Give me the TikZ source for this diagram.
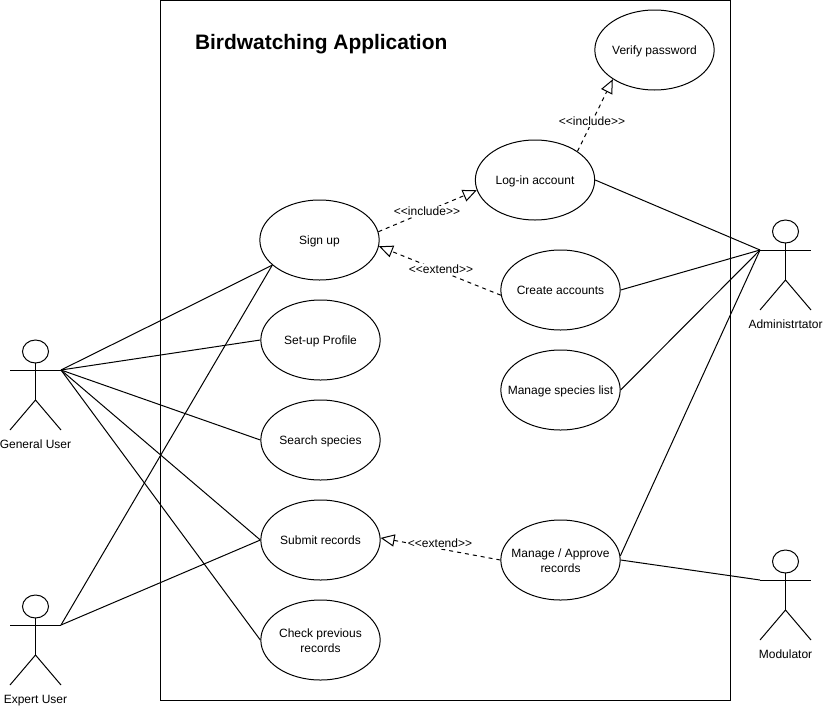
\documentclass[tikz,border=0pt]{standalone}
\usepackage{fontspec}
\setmainfont{Liberation Sans}
\usetikzlibrary{arrows.meta,shapes.geometric}
\newcommand{\toprow}{\rule{0pt}{9.5pt}}
\tikzset{
    usecase/.style={draw, ellipse, minimum width=89.5pt, minimum height=60pt, inner xsep=-12pt, inner ysep=0pt, align=center, font=\fontsize{9pt}{11.25pt}\selectfont,
        execute at begin node={\rule[-2pt]{0pt}{10.5pt}}},
    assoc/.style={line width=0.75pt},
    depends/.style={line width=0.75pt, dash pattern=on 3pt off 3pt, -{Triangle[open, length=10.5pt, width=9.2pt]}},
    deplabel/.style={fill=white, inner sep=1pt, font=\fontsize{9pt}{10pt}\selectfont},
    actorlabel/.style={inner sep=0pt, text height=6.5pt, text depth=2pt, font=\fontsize{9pt}{10pt}\selectfont},
}

\begin{document}
\begin{tikzpicture}[x=0.75pt, y=-0.75pt, line width=0.75pt]
    \useasboundingbox (0,0) rectangle (823,707);

    % Draw the system boundary
    \draw (160,0) rectangle (730,700);
    \node[anchor=west, inner sep=0pt, font=\fontsize{15.7pt}{18pt}\selectfont\bfseries] (title) at (194.5,44) {Birdwatching Application};

    % Draw the use cases
    \node[usecase] (signup) at (319.5,240) {Sign up};
    \node[usecase] (profile) at (320.5,340) {Set-up Profile};
    \node[usecase] (search) at (320.5,440) {Search species};
    \node[usecase] (submit) at (320.5,540) {Submit records};
    \node[usecase] (check) at (320.5,640) {\toprow Check previous\\records};
    \node[usecase] (verify) at (654.5,50) {Verify password};
    \node[usecase] (login) at (535,180) {Log-in account};
    \node[usecase] (create) at (560.5,290) {Create accounts};
    \node[usecase] (species) at (560.5,390) {Manage species list};
    \node[usecase] (approve) at (560.5,560) {\toprow Manage / Approve\\records};

    % Draw the actors
    \foreach \name/\cx/\cy/\who in {general/35.5/370/General User, expert/35.5/625/Expert User, admin/785.5/250/Administrtator, modulator/785.5/580/Modulator}{
        \draw (\cx,\cy-18.5) ellipse (13 and 11.5);
        \draw (\cx,\cy-7) -- (\cx,\cy+30);
        \draw (\cx-25.5,\cy) -- (\cx+25.5,\cy);
        \draw (\cx-25.5,\cy+60) -- (\cx,\cy+30) -- (\cx+25.5,\cy+60);
        \coordinate (\name-left) at (\cx-25.5,\cy);
        \coordinate (\name-right) at (\cx+25.5,\cy);
        \node[actorlabel] (\name-label) at (\cx,\cy+75) {\who};
    }

    % Draw the associations
    \draw[assoc] (general-right) -- (signup.208);
    \draw[assoc] (general-right) -- (profile.west);
    \draw[assoc] (general-right) -- (search.west);
    \draw[assoc] (general-right) -- (submit.west);
    \draw[assoc] (general-right) -- (check.west);
    \draw[assoc] (expert-right) -- (signup.208);
    \draw[assoc] (expert-right) -- (submit.west);
    \draw[assoc] (admin-left) -- (login.east);
    \draw[assoc] (admin-left) -- (create.east);
    \draw[assoc] (admin-left) -- (species.east);
    \draw[assoc] (admin-left) -- (approve.4);
    \draw[assoc] (modulator-left) -- (approve.east);

    % Draw the include and extend arrows
    \draw[depends] (signup.8) -- (login.190);
    \draw[depends] (login.34) -- (verify.215);
    \draw[depends] (create.185) -- (signup.-6);
    \draw[depends] (approve.west) -- (submit.2);

    \node[deplabel] (inc1) at (427,211.5) {<{}<include>{}>};
    \node[deplabel] (inc2) at (592,121.5) {<{}<include>{}>};
    \node[deplabel] (ext1) at (441,269.5) {<{}<extend>{}>};
    \node[deplabel] (ext2) at (440,543.5) {<{}<extend>{}>};
\end{tikzpicture}
\end{document}
